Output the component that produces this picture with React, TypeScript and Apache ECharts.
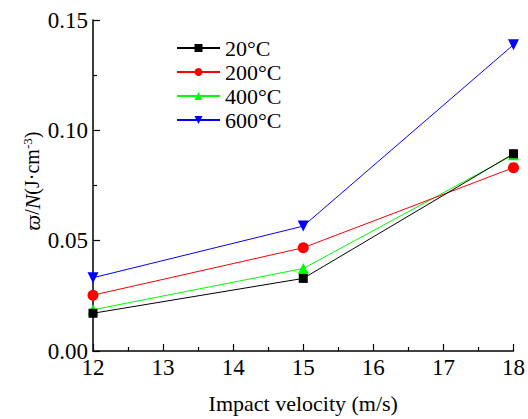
import React, { useEffect, useRef } from "react";
import * as echarts from "echarts";

const velocities = [12, 15, 18];
const seriesNames = ["20°C", "200°C", "400°C", "600°C"];
const s20 = [0.0171, 0.0329, 0.0894];
const s200 = [0.0253, 0.0468, 0.0831];
const s400 = [0.0187, 0.0374, 0.0889];
const s600 = [0.0332, 0.0566, 0.1388];
const colors = ["#000000", "#ff0000", "#00ff00", "#0000ff"];
const symbols = ["rect", "circle", "triangle", "path://M0,0 L10,0 L5,9 Z"];
const symbolSizes = [9, 11, 11, 11];
const xTicks = [12, 13, 14, 15, 16, 17, 18];
const yTicks = [0, 0.05, 0.1, 0.15];

const FONT = "'Liberation Serif', 'Times New Roman', serif";

export default function App() {
  const ref = useRef<HTMLDivElement>(null);
  useEffect(() => {
    document.body.style.margin = "0";
    const chart = echarts.init(ref.current!, null, { renderer: "svg" });
    const all = [s20, s200, s400, s600];
    chart.setOption({
      animation: false,
      backgroundColor: "#ffffff",
      textStyle: { fontFamily: FONT },
      grid: { left: 93, right: 13, top: 20, bottom: 65 },
      legend: {
        orient: "vertical",
        left: 171,
        top: 32,
        itemWidth: 43,
        itemHeight: 10,
        itemGap: 2,
        data: seriesNames,
        textStyle: { fontFamily: FONT, fontSize: 22, color: "#000" },
      },
      xAxis: {
        type: "value",
        min: xTicks[0],
        max: xTicks[xTicks.length - 1],
        interval: 1,
        name: "Impact velocity (m/s)",
        nameLocation: "middle",
        nameGap: 41,
        nameTextStyle: { fontFamily: FONT, fontSize: 22, color: "#000" },
        axisLine: { lineStyle: { color: "#000", width: 1.5 } },
        axisTick: { inside: true, length: 7, lineStyle: { color: "#000", width: 1.2 } },
        minorTick: { show: true, splitNumber: 2, length: 4, lineStyle: { color: "#000", width: 1.2 } },
        axisLabel: { fontFamily: FONT, fontSize: 23, color: "#000", margin: 5 },
        splitLine: { show: false },
      },
      yAxis: {
        type: "value",
        min: yTicks[0],
        max: yTicks[yTicks.length - 1],
        interval: 0.05,
        axisLine: { show: true, lineStyle: { color: "#000", width: 1.5 } },
        axisTick: { show: true, inside: true, length: 7, lineStyle: { color: "#000", width: 1.2 } },
        minorTick: { show: true, splitNumber: 2, length: 4, lineStyle: { color: "#000", width: 1.2 } },
        axisLabel: {
          fontFamily: FONT,
          fontSize: 23,
          color: "#000",
          margin: 5,
          formatter: (v: number) => v.toFixed(2),
        },
        splitLine: { show: false },
      },
      graphic: [
        {
          type: "text",
          x: 32,
          y: 181,
          rotation: Math.PI / 2,
          style: {
            text: "{i|ϖ}{n|/}{i|N}{n|(J·cm}{s|-3}{n|)}",
            align: "center",
            verticalAlign: "middle",
            rich: {
              i: { fontFamily: FONT, fontSize: 22, fontStyle: "italic", fill: "#000" },
              n: { fontFamily: FONT, fontSize: 20, fill: "#000" },
              s: { fontFamily: FONT, fontSize: 13, fill: "#000", verticalAlign: "top", padding: [0, 0, 10, 0] },
            },
          },
        },
      ],
      series: all.map((d, i) => ({
        name: seriesNames[i],
        type: "line",
        data: velocities.map((x, j) => [x, d[j]]),
        symbol: symbols[i],
        symbolSize: symbolSizes[i],
        itemStyle: { color: colors[i] },
        lineStyle: { color: colors[i], width: 1 },
        z: 2 + (3 - i),
      })),
    });
    return () => chart.dispose();
  }, []);
  return <div ref={ref} style={{ width: 528, height: 419 }} />;
}
